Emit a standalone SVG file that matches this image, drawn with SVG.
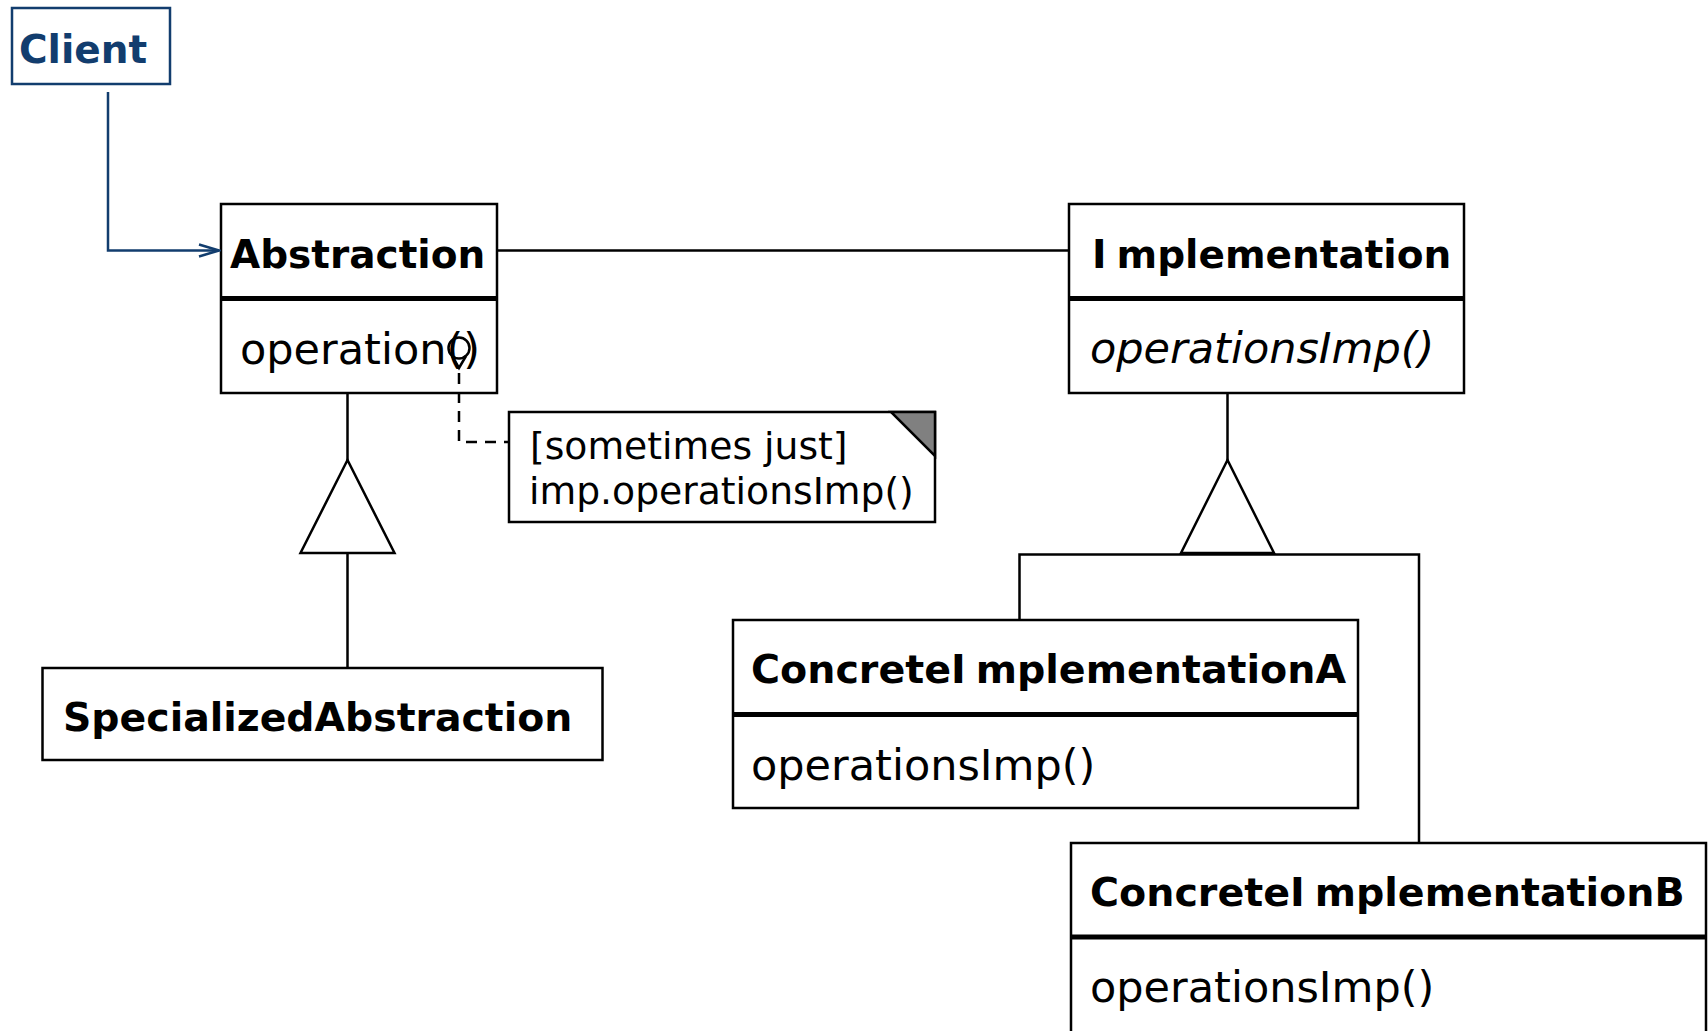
<svg xmlns="http://www.w3.org/2000/svg" width="1708" height="1031" viewBox="0 0 1708 1031">
<style>
.box{fill:#fff;stroke:#000;stroke-width:2.5}
.div{stroke:#000;stroke-width:5}
.ln{fill:none;stroke:#000;stroke-width:2.5}
.t{font-family:"DejaVu Sans",sans-serif;font-weight:bold;font-size:39px;fill:#000}
.op{font-family:"DejaVu Sans",sans-serif;font-size:43px;fill:#000}
.note{font-family:"DejaVu Sans",sans-serif;font-size:37.7px;fill:#000}
</style>
<defs>
<marker id="open" markerWidth="24" markerHeight="16" refX="22" refY="8" orient="auto" markerUnits="userSpaceOnUse">
<path d="M2,2 L22,8 L2,14" fill="none" stroke="#123d6e" stroke-width="2.5"/>
</marker>
</defs>
<rect width="1708" height="1031" fill="#fff"/>
<g id="client">
<rect x="12" y="8" width="158" height="76" fill="#fff" stroke="#123d6e" stroke-width="2.5"/>
<text x="19" y="63" class="t" style="fill:#123d6e">Client</text>
</g>
<g id="abstraction">
<rect class="box" x="221" y="204" width="276" height="189"/>
<line class="div" x1="221" y1="298.5" x2="497" y2="298.5"/>
<text x="230" y="268" class="t">Abstraction</text>
<text x="240" y="364" class="op">operation()</text>
</g>
<g id="implementation">
<rect class="box" x="1069" y="204" width="395" height="189"/>
<line class="div" x1="1069" y1="298.5" x2="1464" y2="298.5"/>
<text x="1092" y="268" class="t">I<tspan dx="10">mplementation</tspan></text>
<text x="1090" y="363" class="op" font-style="italic">operationsImp()</text>
</g>
<g id="note">
<rect class="box" x="509" y="412" width="426" height="110"/>
<polygon points="891,412 935,412 935,456" fill="#808080" stroke="#000" stroke-width="2.5"/>
<text x="530" y="459" class="note">[sometimes just]</text>
<text x="529" y="504" class="note">imp.operationsImp()</text>
</g>
<g id="specialized">
<rect class="box" x="42.5" y="668" width="560" height="92"/>
<text x="63" y="731" class="t" style="font-size:39.4px">SpecializedAbstraction</text>
</g>
<g id="concreteA">
<rect class="box" x="733" y="620" width="625" height="188"/>
<line class="div" x1="733" y1="714.5" x2="1358" y2="714.5"/>
<text x="751" y="683" class="t" style="font-size:39.6px">ConcreteI<tspan dx="10">mplementationA</tspan></text>
<text x="751" y="780" class="op">operationsImp()</text>
</g>
<g id="concreteB">
<rect class="box" x="1071" y="843" width="635" height="200"/>
<line class="div" x1="1071" y1="937" x2="1706" y2="937"/>
<text x="1090" y="906" class="t" style="font-size:39.6px">ConcreteI<tspan dx="10">mplementationB</tspan></text>
<text x="1090" y="1002" class="op">operationsImp()</text>
</g>
<g id="connectors">
<path d="M108,92 V250.5 H219" fill="none" stroke="#123d6e" stroke-width="2.5" marker-end="url(#open)"/>
<path class="ln" d="M497,250.5 H1069"/>
<path class="ln" d="M347.5,393 V460 M347.5,553 V668"/>
<polygon points="347.5,460 300.5,553 394.5,553" fill="#fff" stroke="#000" stroke-width="2.5"/>
<path class="ln" d="M1227.5,393 V460 M1019.5,620 V554.5 H1419 V843"/>
<polygon points="1227.5,460 1181,553 1274,553" fill="#fff" stroke="#000" stroke-width="2.5"/>
<circle cx="459" cy="348" r="10.5" fill="none" stroke="#000" stroke-width="2.5"/>
<path d="M452,356 L459,368 L466,356" fill="none" stroke="#000" stroke-width="2.5"/>
<path d="M459,373 V442 H509" fill="none" stroke="#000" stroke-width="2.5" stroke-dasharray="11,8"/>
</g>
</svg>
